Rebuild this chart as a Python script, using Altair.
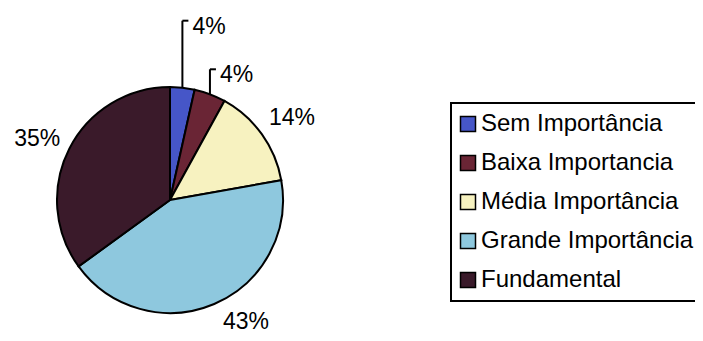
import altair as alt
import pandas as pd

# ---- data ----
categories = ["Sem Importância", "Baixa Importancia", "Média Importância",
              "Grande Importância", "Fundamental"]
values = [3.5, 4.5, 14.2, 42.8, 35.0]
labels = ["4%", "4%", "14%", "43%", "35%"]

# ---- styling ----
colors = ["#4656c8", "#6a2535", "#f7f2c0", "#8ec8de", "#3a1a2a"]
label_radius = [0, 0, 147, 144, 146]        # outside labels (0 = uses leader)
label_angle_shift = [0, 0, 1.7, -8.8, -2.4]  # degrees
leader_len = [67, 25, 0, 0, 0]               # vertical leader length (px)

CX, CY, R = 162, 192, 113
FONT = "Liberation Sans"

df = pd.DataFrame({
    "cat": categories,
    "value": values,
    "label": labels,
    "idx": list(range(len(values))),
    "lr": label_radius,
    "la": label_angle_shift,
    "ll": leader_len,
})

base = (
    alt.Chart(df)
    .transform_joinaggregate(total="sum(value)")
    .transform_window(cum="sum(value)", sort=[alt.SortField("idx")], frame=[None, 0])
    .transform_calculate(
        mid="(datum.cum - datum.value/2)/datum.total*2*PI",
        ex=f"{CX} + {R}*sin(datum.mid)",
        ey=f"{CY} - {R}*cos(datum.mid)",
        top=f"{CY} - {R}*cos(datum.mid) - datum.ll",
        tickx=f"{CX} + {R}*sin(datum.mid) + 6",
        tx=f"{CX} + {R}*sin(datum.mid) + 10",
        ty=f"{CY} - {R}*cos(datum.mid) - datum.ll + 6",
        lx=f"{CX} + datum.lr*sin(datum.mid + datum.la*PI/180)",
        ly=f"{CY} - datum.lr*cos(datum.mid + datum.la*PI/180)",
    )
)

pie = alt.Chart(df).mark_arc(outerRadius=R, stroke="black", strokeWidth=2).encode(
    theta=alt.Theta("value:Q", stack=True),
    color=alt.Color(
        "cat:N",
        scale=alt.Scale(domain=categories, range=colors),
        sort=categories,
        legend=alt.Legend(title=None, orient="none", legendX=443, legendY=95),
    ),
    order=alt.Order("idx:Q"),
    x=alt.value(CX),
    y=alt.value(CY),
)

outer = base.transform_filter("datum.lr > 0").mark_text(
    font=FONT, fontSize=23, color="black", align="center", baseline="middle"
).encode(
    x=alt.X("lx:Q", scale=None),
    y=alt.Y("ly:Q", scale=None),
    text="label:N",
)

lead_v = base.transform_filter("datum.ll > 0").mark_rule(color="black", strokeWidth=2).encode(
    x=alt.X("ex:Q", scale=None),
    y=alt.Y("ey:Q", scale=None),
    y2="top:Q",
)

lead_h = base.transform_filter("datum.ll > 0").mark_rule(color="black", strokeWidth=2).encode(
    x=alt.X("ex:Q", scale=None),
    x2="tickx:Q",
    y=alt.Y("top:Q", scale=None),
)

lead_txt = base.transform_filter("datum.ll > 0").mark_text(
    font=FONT, fontSize=23, color="black", align="left", baseline="middle"
).encode(
    x=alt.X("tx:Q", scale=None),
    y=alt.Y("ty:Q", scale=None),
    text="label:N",
)

chart = (
    alt.layer(pie, lead_v, lead_h, outer, lead_txt)
    .properties(width=687, height=325, autosize=alt.AutoSizeParams(type="none"), padding=0,
                background="white")
    .configure_view(stroke=None)
    .configure_legend(
        symbolType="square",
        symbolSize=225,
        symbolStrokeColor="black",
        symbolStrokeWidth=1.5,
        symbolOpacity=1,
        symbolOffset=-4,
        labelFontSize=24,
        labelFont=FONT,
        labelColor="black",
        labelLimit=400,
        labelOffset=1,
        strokeColor="black",
        strokeWidth=2,
        fillColor="white",
        padding=9,
        rowPadding=15,
    )
)

chart.save("out.html", embed_options={"renderer": "svg", "actions": False})
